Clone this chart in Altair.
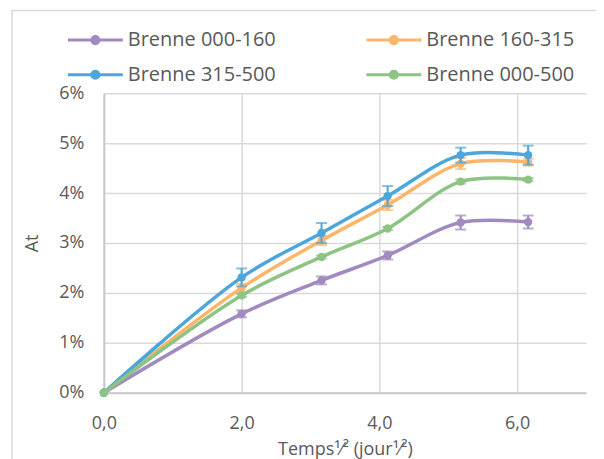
import altair as alt
import pandas as pd

series = ["Brenne 000-160", "Brenne 160-315", "Brenne 315-500", "Brenne 000-500"]
colors = ["#a08abf", "#fdb56a", "#4da6db", "#8dc383"]
x_vals = [0.0, 2.0, 3.16, 4.12, 5.18, 6.16]

purple = [0.0, 1.58, 2.25, 2.75, 3.41, 3.42]
orange = [0.0, 2.10, 3.05, 3.76, 4.59, 4.62]
blue = [0.0, 2.31, 3.20, 3.94, 4.76, 4.76]
green = [0.0, 1.95, 2.72, 3.29, 4.23, 4.27]

purple_err = [0.0, 0.07, 0.08, 0.08, 0.14, 0.13]
orange_err = [0.0, 0.08, 0.09, 0.10, 0.11, 0.07]
blue_err = [0.0, 0.18, 0.20, 0.20, 0.15, 0.19]
green_err = [0.0, 0.03, 0.03, 0.03, 0.04, 0.03]

values = [purple, orange, blue, green]
errors = [purple_err, orange_err, blue_err, green_err]

FONT = "Open Sans"
TXT = "#595959"

color_scale = alt.Scale(domain=series, range=colors)
x_scale = alt.Scale(domain=[0, 7], nice=False, zero=False)
y_scale = alt.Scale(domain=[0, 0.06], nice=False)

r = 0.26
sym = ("M-2,0L2,0M{r},0A{r},{r},0,1,1,-{r},0A{r},{r},0,1,1,{r},0Z").format(r=r)

legend = alt.Legend(
    title=None, orient="none", legendX=-24, legendY=-69, columns=2,
    direction="horizontal",
    columnPadding=84, rowPadding=9, symbolType=sym, symbolSize=756,
    symbolStrokeWidth=3, labelOffset=17, labelFont=FONT, labelFontSize=20,
    labelColor=TXT, padding=0, symbolOpacity=1,
)

layers = []

# frame around the chart area (decorative)
frame = alt.Chart(pd.DataFrame({"a": [0]})).mark_rect(
    fill=None, stroke="#d9d9d9", strokeWidth=1.5
).encode(x=alt.value(-92), x2=alt.value(700), y=alt.value(-83), y2=alt.value(600))
layers.append(frame)

x_enc = alt.X(
    "x:Q", scale=x_scale,
    axis=alt.Axis(
        values=[0, 2, 4, 6], labelFlush=False,
        labelExpr="replace(format(datum.value, '.1f'), '.', ',')",
        title="Temps¹⁄² (jour¹⁄²)",
    ),
)
y_enc = alt.Y(
    "y:Q", scale=y_scale,
    axis=alt.Axis(values=[0, 0.01, 0.02, 0.03, 0.04, 0.05, 0.06], format=".0%", title="At"),
)

for i, name in enumerate(series):
    df = pd.DataFrame({
        "x": x_vals,
        "y": [v / 100 for v in values[i]],
        "lo": [(v - e) / 100 for v, e in zip(values[i], errors[i])],
        "hi": [(v + e) / 100 for v, e in zip(values[i], errors[i])],
        "serie": [name] * len(x_vals),
    })
    base = alt.Chart(df)
    color_enc = alt.Color("serie:N", scale=color_scale, legend=legend)
    err = base.transform_filter("datum.x > 0").mark_errorbar(
        ticks={"size": 11, "thickness": 2}, thickness=2, color=colors[i]
    ).encode(
        x=x_enc, y=alt.Y("lo:Q", scale=y_scale, title="At"), y2="hi:Q",
    )
    line = base.mark_line(interpolate="catmull-rom", strokeWidth=3.5).encode(
        x=x_enc, y=y_enc, color=color_enc
    )
    pts = base.mark_point(filled=True, size=70, opacity=1).encode(
        x=x_enc, y=y_enc, color=color_enc
    )
    layers += [err, line, pts]

chart = alt.layer(*layers).properties(
    width=483, height=300, autosize="none",
    padding={"left": 96, "top": 85, "right": 10, "bottom": 66},
).configure_view(stroke=None).configure_axis(
    labelFont=FONT, labelFontSize=18, labelColor=TXT,
    titleFont=FONT, titleFontSize=18, titleColor=TXT, titleFontWeight="normal",
    gridColor="#d9d9d9", gridWidth=1.5, domainColor="#c8c8c8", domainWidth=2,
    ticks=False,
).configure_axisX(
    labelPadding=22, titlePadding=8, domain=True, grid=True,
).configure_axisY(
    labelPadding=20, titlePadding=17, domain=True, grid=True,
)

chart.save("out.html", embed_options={"renderer": "svg", "actions": False})
